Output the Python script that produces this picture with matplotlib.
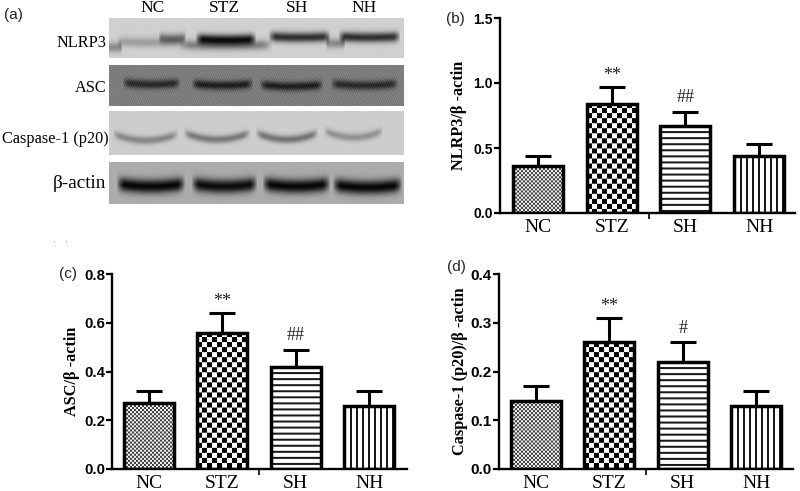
import matplotlib
matplotlib.use('Agg')
import matplotlib.pyplot as plt
import numpy as np

W, H = 800, 491
groups = ['NC', 'STZ', 'SH', 'NH']

# bar heights and upper error limits
nlrp3 = [0.36, 0.84, 0.67, 0.44]
nlrp3_top = [0.44, 0.97, 0.78, 0.53]
asc = [0.27, 0.56, 0.42, 0.26]
asc_top = [0.32, 0.64, 0.49, 0.32]
casp = [0.14, 0.26, 0.22, 0.13]
casp_top = [0.17, 0.31, 0.26, 0.16]

nlrp3_marks = ['', '**', '##', '']
asc_marks = ['', '**', '##', '']
casp_marks = ['', '**', '#', '']

nlrp3_ticks = [0.0, 0.5, 1.0, 1.5]
asc_ticks = [0.0, 0.2, 0.4, 0.6, 0.8]
casp_ticks = [0.0, 0.1, 0.2, 0.3, 0.4]

# blot lanes: left, right, band y, darkness
nlrp3_bands = [(116, 184, 42, 50), (158, 186, 38, 80), (195, 256, 39, 175), (268, 330, 37, 160),
               (338, 400, 37, 160), (178, 272, 45, 80), (325, 345, 43, 70), (105, 122, 47, 70)]
asc_bands = [(122, 180, 84, 85), (191, 253, 85, 95), (259, 323, 86, 95), (330, 398, 85, 85)]
casp_bands = [(112, 178, 140, 70), (183, 250, 139, 85), (255, 318, 139, 90), (323, 383, 137, 60)]
actin_bands = [(116, 185, 186, 165), (191, 257, 186, 160), (262, 330, 186, 165), (332, 402, 187, 165)]


def blot_image(x0, x1, y0, y1, bg, bands, thick, bow, grain=0):
    # grey image of one blot strip, one array cell per pixel
    xx, yy = np.meshgrid(np.arange(x0, x1), np.arange(y0, y1))
    img = np.full(xx.shape, float(bg))
    if grain:
        img += grain * np.sin(xx * 2.1 + yy * 1.3) * np.sin(yy * 2.7 - xx * 0.7)
    for left, right, yc, dark in bands:
        mid = (left + right) / 2
        half = (right - left) / 2
        u = (xx - mid) / half
        centre = yc - bow * u ** 2
        across = np.exp(-((yy - centre) / thick) ** 2)
        along = np.clip(1.25 - u ** 6 * 1.25, 0, 1)
        img -= dark * across * along
    return np.clip(img, 0, 255)


def checker(nx, ny, cell):
    ix, iy = np.meshgrid(np.arange(nx), np.arange(ny))
    return ((ix // cell + iy // cell) % 2).astype(float)


def fill_pattern(kind, nx, ny):
    ix, iy = np.meshgrid(np.arange(nx), np.arange(ny))
    if kind == 0:
        return 0.25 + 0.7 * checker(nx, ny, 2)
    if kind == 1:
        return checker(nx, ny, 5)
    if kind == 2:
        return (iy % 6 >= 2) * 0.9 + 0.1
    return (ix % 6 >= 2) * 0.9 + 0.1


def draw_bars(fig, box, values, tops, marks, yticks, ylabel, tick_size, label_x):
    left, right, top, bottom, step, first = box
    ax = fig.add_axes([left / W, 1 - bottom / H, (right - left) / W, (bottom - top) / H])
    ax.patch.set_alpha(0)
    ax.set_xlim((left - first) / step, (right - first) / step)
    ax.set_ylim(0, yticks[-1])
    x = np.arange(len(values))
    bw = 50 / step
    bars = ax.bar(x, values, width=bw, color='none', edgecolor='black', linewidth=2.5, zorder=3)
    ppy = (bottom - top) / yticks[-1]
    for i, b in enumerate(bars):
        ny = int(values[i] * ppy)
        img = fill_pattern(i, 50, ny)
        im = ax.imshow(img, cmap='gray', vmin=0, vmax=1, aspect='auto', interpolation='bilinear',
                       extent=(x[i] - bw / 2, x[i] + bw / 2, 0, values[i]), zorder=2)
        im.set_clip_path(b)
    ax.set_xlim((left - first) / step, (right - first) / step)
    ax.set_ylim(0, yticks[-1])
    errs = [np.zeros(len(values)), np.array(tops) - np.array(values)]
    ax.errorbar(x, values, yerr=errs, fmt='none', ecolor='black', elinewidth=2.2,
                capsize=9.5, capthick=2.2, zorder=1)
    for i, m in enumerate(marks):
        if m:
            off = 8.5 if m[0] == '*' else 10
            ax.annotate(m, (x[i], tops[i]), xytext=(0, off), textcoords='offset points', ha='center',
                        va='center', family='Liberation Serif', fontsize=13, color='#222222')
    for s in ['top', 'right']:
        ax.spines[s].set_visible(False)
    for s in ['left', 'bottom']:
        ax.spines[s].set_linewidth(1.7)
    ax.set_yticks(yticks)
    ax.set_yticklabels(['%.1f' % t for t in yticks], family='Liberation Sans', weight='bold', fontsize=tick_size)
    ax.tick_params(axis='y', length=4, width=1.6, pad=1)
    ax.set_xticks(x)
    ax.set_xticklabels(groups, family='Liberation Serif', fontsize=14)
    ax.tick_params(axis='x', length=0, pad=4)
    ax.set_xticks([1.5], minor=True)
    ax.tick_params(axis='x', which='minor', length=4, width=1.2)
    ax.set_ylabel(ylabel, family='Liberation Serif', weight='bold', fontsize=11.7)
    ax.yaxis.set_label_coords((label_x - left) / (right - left), 0.5)
    return ax


fig = plt.figure(figsize=(W / 100, H / 100), dpi=100, facecolor='white')

# page axes in pixel units for the blot panel and the panel letters
page = fig.add_axes([0, 0, 1, 1])
page.set_xlim(0, W)
page.set_ylim(H, 0)
page.axis('off')

strips = [
    (109, 404, 18, 58, 208, nlrp3_bands, 5, 1, 3),
    (109, 404, 65, 106, 125, asc_bands, 4.5, 2, 18),
    (109, 404, 111, 155, 205, casp_bands, 4, 7, 1),
    (109, 404, 162, 204, 172, actin_bands, 7, 3, 3),
]
for x0, x1, y0, y1, bg, bands, thick, bow, grain in strips:
    img = blot_image(x0, x1, y0, y1, bg, bands, thick, bow, grain)
    page.imshow(img, cmap='gray', vmin=0, vmax=255, aspect='auto', interpolation='bilinear',
                extent=(x0, x1, y1, y0))
page.set_xlim(0, W)
page.set_ylim(H, 0)

lane_x = [153, 224, 297, 364]
for name, lx in zip(groups, lane_x):
    page.text(lx, 8, name, ha='center', va='center', family='Liberation Serif', fontsize=12.5)
page.text(106, 43, 'NLRP3', ha='right', va='center', family='Liberation Serif', fontsize=11.7)
page.text(106, 88, 'ASC', ha='right', va='center', family='Liberation Serif', fontsize=11.7)
page.text(109, 139, 'Caspase-1 (p20)', ha='right', va='center', family='Liberation Serif', fontsize=11.7)
page.text(106, 183, 'β-actin', ha='right', va='center', family='Liberation Serif', fontsize=13.8)
page.text(54, 243, "'", ha='center', va='center', family='Liberation Sans', fontsize=4, color='#555555')
page.text(66, 243, "'", ha='center', va='center', family='Liberation Sans', fontsize=4, color='#555555')

page.text(4, 15, '(a)', ha='left', va='center', family='Liberation Sans', fontsize=11, color='#222222')
page.text(446, 19, '(b)', ha='left', va='center', family='Liberation Sans', fontsize=11, color='#222222')
page.text(59, 274, '(c)', ha='left', va='center', family='Liberation Sans', fontsize=11, color='#222222')
page.text(447, 267, '(d)', ha='left', va='center', family='Liberation Sans', fontsize=11, color='#222222')

# left, right, top, bottom, bar spacing, first bar centre (pixels)
draw_bars(fig, (500, 795, 18, 213, 73.7, 538), nlrp3, nlrp3_top, nlrp3_marks, nlrp3_ticks,
          'NLRP3/β -actin', 10, 467)
draw_bars(fig, (112, 407, 274, 469, 73.4, 149), asc, asc_top, asc_marks, asc_ticks,
          'ASC/β -actin', 10.8, 80)
draw_bars(fig, (499, 793, 274, 469, 73.4, 536), casp, casp_top, casp_marks, casp_ticks,
          'Caspase-1 (p20)/β -actin', 11, 468)

fig.savefig('out.png', dpi=100)
